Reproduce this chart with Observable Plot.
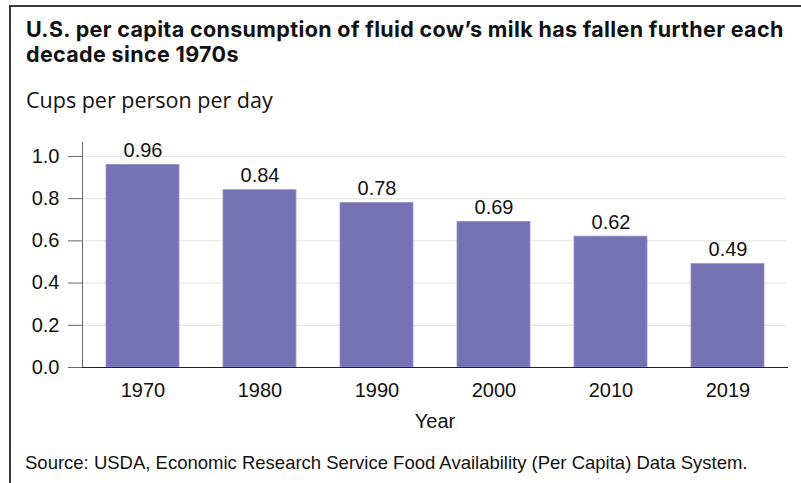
<!DOCTYPE html>
<html>
<head>
<meta charset="utf-8">
<script src="https://cdn.jsdelivr.net/npm/d3@7"></script>
<script src="https://cdn.jsdelivr.net/npm/@observablehq/plot@0.6"></script>
<style>
  html, body { margin: 0; padding: 0; background: #fff; }
  #wrap { position: relative; width: 801px; height: 483px; overflow: hidden; background: #fff; }
  #border { position: absolute; left: 9px; top: 5px; width: 800px; height: 480px;
            border-left: 2px solid #3a3a3a; border-top: 2px solid #3a3a3a; }
  #title { position: absolute; left: 26px; top: 17px; font-family: Inter, "Liberation Sans", Arial, sans-serif;
           font-weight: 700; font-size: 21.5px; line-height: 25px; color: #111; white-space: nowrap; letter-spacing: 0.35px; }
  #subtitle { position: absolute; left: 26px; top: 87px; font-family: "Open Sans", sans-serif;
              font-size: 21.5px; line-height: 26px; color: #111; white-space: nowrap; }
  #chart { position: absolute; left: 0; top: 130px; }
  #source { position: absolute; left: 25px; top: 452px; font-family: "Liberation Sans", Arial, sans-serif;
            font-size: 18.5px; line-height: 21px; color: #111; white-space: nowrap; }
</style>
</head>
<body>
<div id="wrap">
  <div id="border"></div>
  <div id="title">U.S. per capita consumption of fluid cow’s milk has fallen further each<br>decade since 1970s</div>
  <div id="subtitle">Cups per person per day</div>
  <div id="chart"></div>
  <div id="source">Source: USDA, Economic Research Service Food Availability (Per Capita) Data System.</div>
</div>
<script>
const years = ["1970", "1980", "1990", "2000", "2010", "2019"];
const cups = [0.96, 0.84, 0.78, 0.69, 0.62, 0.49];
const yTicks = [0, 0.2, 0.4, 0.6, 0.8, 1.0];

const data = years.map((y, i) => ({year: y, value: cups[i]}));

const chart = Plot.plot({
  width: 801,
  height: 310,
  marginLeft: 82,
  marginRight: 14,
  marginTop: 12,
  marginBottom: 73,
  style: {fontFamily: "Liberation Sans, Arial, sans-serif", fontSize: "20px", color: "#111", background: "transparent"},
  x: {domain: years, paddingInner: 0.378, paddingOuter: 0.189, label: null},
  y: {domain: [0, 1.066], label: null},
  marks: [
    Plot.gridY(yTicks, {stroke: "#e2e2e2", strokeOpacity: 1}),
    Plot.barY(data, {x: "year", y: "value", fill: "#7572b4", stroke: "#9795c9", strokeWidth: 0.8}),
    Plot.text(data, {x: "year", y: "value", text: d => d.value.toFixed(2), dy: -8, lineAnchor: "bottom", fill: "#111", fontSize: 20}),
    Plot.axisY(yTicks, {tickFormat: d3.format(".1f"), tickSize: 14, tickPadding: 9, stroke: "#666", fontSize: 20, label: null}),
    Plot.axisX({tickSize: 0, tickPadding: 15, fontSize: 20, label: "Year", labelAnchor: "center", labelArrow: "none", labelOffset: 60}),
    Plot.frame({anchor: "left", stroke: "#666"}),
    Plot.frame({anchor: "bottom", stroke: "#222"})
  ]
});
document.getElementById("chart").appendChild(chart);
</script>
</body>
</html>
